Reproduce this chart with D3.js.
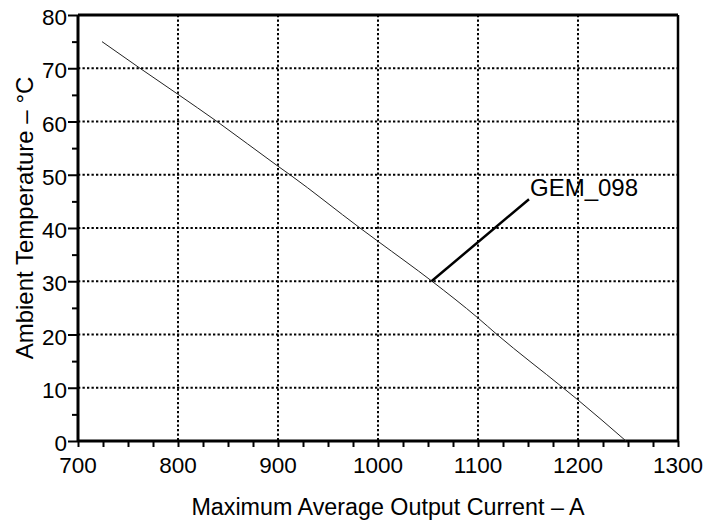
<!DOCTYPE html>
<html>
<head>
<meta charset="utf-8">
<script src="https://d3js.org/d3.v7.min.js"></script>
<style>
  body { margin: 0; background: #fff; }
  svg text { font-family: "Liberation Sans", Arial, sans-serif; fill: #000; }
</style>
</head>
<body>
<div id="chart"></div>
<script>
// curve: output current (A) vs ambient temperature (°C)
var current = [724, 762, 800, 839, 900, 912, 982, 1000, 1054, 1100, 1119, 1185, 1200, 1248];
var temp    = [75,  70,  65.1, 60, 51.6, 50, 40,  37.5, 30,   23.1, 20,   10,   7.7,  0];

var xTicks = [700, 800, 900, 1000, 1100, 1200, 1300];
var yTicks = [0, 10, 20, 30, 40, 50, 60, 70, 80];
var xMinor = d3.range(700, 1301, 25);
var yMinor = d3.range(0, 81, 5);

// annotation: label and leader end point on the curve
var labelText = "GEM_098";
var labelAt = {x: 1053.5, y: 30};
var labelTail = {x: 1151, y: 45.4};

var W = 709, H = 521;
var margin = {top: 15, right: 31, bottom: 80, left: 78};
var width = W - margin.left - margin.right,
    height = H - margin.top - margin.bottom;

var svg = d3.select("#chart").append("svg")
    .attr("width", W).attr("height", H);
var g = svg.append("g")
    .attr("transform", "translate(" + margin.left + "," + margin.top + ")");

var x = d3.scaleLinear().domain([700, 1300]).range([0, width]);
var y = d3.scaleLinear().domain([0, 80]).range([height, 0]);

// dotted grid
g.selectAll(".vgrid").data(xTicks.slice(1, -1)).enter().append("line")
    .attr("x1", d => x(d)).attr("x2", d => x(d))
    .attr("y1", 0).attr("y2", height)
    .attr("stroke", "#000").attr("stroke-width", 2)
    .attr("stroke-dasharray", "2.3,2.2");
g.selectAll(".hgrid").data(yTicks.slice(1, -1)).enter().append("line")
    .attr("x1", 0).attr("x2", width)
    .attr("y1", d => y(d)).attr("y2", d => y(d))
    .attr("stroke", "#000").attr("stroke-width", 2)
    .attr("stroke-dasharray", "2.3,2.2");

// top and right frame
g.append("line").attr("x1", 0).attr("x2", width).attr("y1", 0).attr("y2", 0)
    .attr("stroke", "#000").attr("stroke-width", 3);
g.append("line").attr("x1", width).attr("x2", width).attr("y1", 0).attr("y2", height)
    .attr("stroke", "#000").attr("stroke-width", 2.5);

// x axis
var xAxis = g.append("g").attr("transform", "translate(0," + height + ")");
xAxis.call(d3.axisBottom(x).tickValues(xMinor).tickSize(6).tickFormat(""));
xAxis.selectAll(".tick line").attr("stroke-width", 2);
xAxis.select(".domain").attr("stroke-width", 3).attr("d", "M0,0H" + width);
g.append("g").selectAll("text").data(xTicks).enter().append("text")
    .attr("x", d => x(d)).attr("y", height + 32)
    .attr("text-anchor", "middle").attr("font-size", 22.5)
    .text(d => d);

// y axis
var yAxis = g.append("g");
yAxis.call(d3.axisLeft(y).tickValues(yMinor).tickSize(6).tickFormat(""));
yAxis.selectAll(".tick line").attr("stroke-width", 2)
    .attr("x2", d => d % 10 === 0 ? -10 : -6);
yAxis.select(".domain").attr("stroke-width", 3).attr("d", "M0,0V" + height);
g.append("g").selectAll("text").data(yTicks).enter().append("text")
    .attr("x", -11).attr("y", d => y(d) + 10)
    .attr("text-anchor", "end").attr("font-size", 22.5)
    .text(d => d);

// the curve
var pts = current.map((c, i) => [c, temp[i]]);
g.append("path").datum(pts)
    .attr("fill", "none").attr("stroke", "#222").attr("stroke-width", 1)
    .attr("d", d3.line().x(d => x(d[0])).y(d => y(d[1])).curve(d3.curveMonotoneX));

// annotation
g.append("line")
    .attr("x1", x(labelAt.x)).attr("y1", y(labelAt.y))
    .attr("x2", x(labelTail.x)).attr("y2", y(labelTail.y))
    .attr("stroke", "#000").attr("stroke-width", 2.5);
g.append("text")
    .attr("x", x(labelTail.x) + 1).attr("y", y(labelTail.y) - 3)
    .attr("font-size", 24).text(labelText);

// axis titles
svg.append("text")
    .attr("x", 388).attr("y", 515)
    .attr("text-anchor", "middle").attr("font-size", 23.3)
    .text("Maximum Average Output Current – A");
svg.append("text")
    .attr("transform", "translate(33,218) rotate(-90)")
    .attr("text-anchor", "middle").attr("font-size", 24)
    .text("Ambient Temperature – °C");
</script>
</body>
</html>
